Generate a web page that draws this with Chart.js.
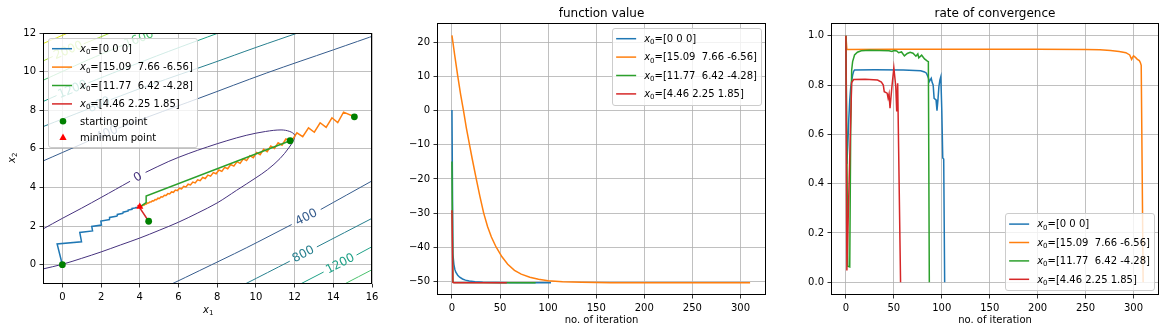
<!DOCTYPE html>
<html>
<head>
<meta charset="utf-8">
<script src="https://cdn.jsdelivr.net/npm/chart.js@4"></script>
<style>
  body { margin: 0; background: #fff; width: 1165px; height: 333px; overflow: hidden; position: relative; }
  canvas { position: absolute; top: 0; }
</style>
</head>
<body>
<canvas id="graficoContorno" width="385" height="333" style="left:0px"></canvas>
<canvas id="graficoValor" width="385" height="333" style="left:390px"></canvas>
<canvas id="graficoTaxa" width="385" height="333" style="left:780px"></canvas>
<script>
// ---------- data ----------
const startLabels = ["[0 0 0]", "[15.09  7.66 -6.56]", "[11.77  6.42 -4.28]", "[4.46 2.25 1.85]"];
const seriesColors = ["#1f77b4", "#ff7f0e", "#2ca02c", "#d62728"];

// paths in the (x1, x2) plane
const blueX = [0, -0.27, 0.99, 0.90, 1.56, 1.52, 2.02, 1.99, 2.46, 2.44, 2.85, 2.84, 3.15, 3.14, 3.40, 3.40, 3.60, 3.60, 3.78, 3.78, 3.92, 4.0];
const blueY = [0, 1.07, 1.19, 1.67, 1.75, 1.98, 2.05, 2.26, 2.34, 2.45, 2.52, 2.60, 2.66, 2.72, 2.78, 2.83, 2.87, 2.91, 2.94, 2.96, 2.98, 3.0];
const orangeX = [15.09, 14.53, 14.23, 13.93, 13.63, 13.32, 13.02, 12.72, 12.42, 12.12, 11.84, 11.55, 11.35, 11.15, 10.96, 10.77, 10.585, 10.40, 10.22, 10.04, 9.865, 9.69, 9.52, 9.35, 9.185, 9.02, 8.86, 8.70, 8.545, 8.39, 8.24, 8.09, 7.945, 7.80, 7.66, 7.52, 7.385, 7.25, 7.12, 6.99, 6.865, 6.74, 6.62, 6.50, 6.385, 6.27, 6.16, 6.05, 5.945, 5.84, 5.74, 5.64, 5.545, 5.45, 5.36, 5.27, 5.185, 5.10, 5.02, 4.94, 4.865, 4.79, 4.72, 4.65, 4.585, 4.52, 4.46, 4.40, 4.345, 4.29, 4.24, 4.19, 4.145, 4.10, 4.05, 4.0];
const orangeY = [7.66, 7.90, 7.36, 7.61, 7.11, 7.35, 6.86, 7.09, 6.63, 6.83, 6.40, 6.51, 6.19, 6.32, 6.02, 6.145, 5.857, 5.974, 5.698, 5.807, 5.543, 5.645, 5.393, 5.487, 5.248, 5.334, 5.106, 5.186, 4.969, 5.043, 4.836, 4.904, 4.707, 4.770, 4.583, 4.640, 4.464, 4.515, 4.349, 4.395, 4.238, 4.278, 4.131, 4.168, 4.029, 4.061, 3.931, 3.959, 3.837, 3.862, 3.748, 3.769, 3.664, 3.681, 3.583, 3.598, 3.506, 3.520, 3.434, 3.446, 3.366, 3.377, 3.303, 3.312, 3.245, 3.251, 3.191, 3.196, 3.141, 3.144, 3.096, 3.097, 3.055, 3.055, 3.02, 3.0];
const greenX = [11.77, 4.33, 4.33, 4.0];
const greenY = [6.42, 3.56, 3.22, 3.0];
const redX = [4.46, 3.95, 4.0];
const redY = [2.25, 3.02, 3.0];
const startX = [0, 15.09, 11.77, 4.46];
const startY = [0, 7.66, 6.42, 2.25];
const minX = [4.0];
const minY = [3.0];

// contour lines (null = gap for the inline label)
const contourLevels = [0, 400, 800, 1200, 1600, 2000, 2400];
const contourColors = ["#46327e", "#365c8d", "#277f8e", "#1fa187", "#4ac16d", "#a0da39", "#d8e219"];
const c0X = [-1.4, -1, 0, 1, 2, 3.5, null, 4.3, 5.5, 6.5, 7.5, 8.5, 9.5, 10.5, 11.3, 11.75, 12.0, 11.95, 11.7, 11.25, 10.6, 10, 9, 8, 7, 6, 5, 4, 3, 2, 1, 0, -1, -1.4];
const c0Y = [1.62, 1.85, 2.4, 2.93, 3.48, 4.32, null, 4.78, 5.35, 5.75, 6.1, 6.42, 6.7, 6.9, 6.98, 6.9, 6.72, 6.45, 6.05, 5.5, 4.92, 4.5, 3.85, 3.2, 2.68, 2.2, 1.78, 1.38, 1.02, 0.66, 0.33, 0.02, -0.22, -0.32];
const c400aX = [-1.5, -1, 1.0, 1.7, null, 2.9, 4.52, 7.11, 10.56, 14.01, 16.5];
const c400aY = [5.15, 5.37, 6.25, 6.56, null, 7.07, 7.69, 8.64, 9.93, 11.13, 12.0];
const c400bX = [5.0, 5.65, 7.1, 9.5, 11.85, null, 13.35, 16, 16.5];
const c400bY = [-1.3, -1, -0.3, 0.87, 2.08, null, 2.86, 4.34, 4.62];
const c800aX = [-1.5, -1, 0.2, 1.3, null, 2.5, 4.5, 7.78, 10, 12.3];
const c800aY = [6.93, 7.15, 7.62, 8.05, null, 8.55, 9.3, 10.45, 11.25, 12.05];
const c800bX = [8.8, 9.44, 11.75, null, 13.15, 16, 16.5];
const c800bY = [-1.3, -1, 0.18, null, 0.92, 2.4, 2.66];
const c1200aX = [-1.5, -1, -0.3, null, 1.35, 3, 5.5, 8.2];
const c1200aY = [8.22, 8.45, 8.76, null, 9.42, 10.08, 11.05, 12.05];
const c1200bX = [11.7, 12.3, 13.5, null, 15.2, 16.5];
const c1200bY = [-1.3, -1, -0.38, null, 0.5, 1.2];
const c1600aX = [-1.5, -1, 1.2, 3.15, null, 4.75, 5.5];
const c1600aY = [9.33, 9.55, 10.55, 11.38, null, 12.02, 12.3];
const c1600bX = [14.1, 16.5];
const c1600bY = [-1.25, 0.0];
const c2000aX = [-1.5, -1, -0.5, null, 1.1, 2.6];
const c2000aY = [10.33, 10.55, 10.78, null, 11.44, 12.05];
const c2400aX = [-1.5, -1, 0.4];
const c2400aY = [11.23, 11.45, 12.05];

// function value per iteration
const fvItersBlue = [0, 1, 2, 3, 4, 6, 8, 11, 14, 18, 24, 32, 45, 60, 103];
const fvBlue = [0.2, -42, -45, -46.5, -47.3, -48.2, -48.8, -49.3, -49.65, -49.9, -50.1, -50.25, -50.35, -50.4, -50.4];
const fvItersOrange = [0, 3, 6, 9, 12, 15, 18, 21, 25, 29, 33, 37, 41, 46, 52, 58, 65, 72, 81, 90, 100, 115, 135, 165, 310];
const fvOrange = [22.1, 16, 10.2, 4.8, 0, -5.1, -9.6, -14, -19.6, -25, -30, -33.9, -37, -40, -42.8, -45, -46.8, -47.9, -48.8, -49.4, -49.8, -50.15, -50.3, -50.38, -50.4];
const fvItersGreen = [0, 1, 2, 87];
const fvGreen = [-14.9, -50.2, -50.35, -50.4];
const fvItersRed = [0, 1, 2, 57];
const fvRed = [-29.2, -50.3, -50.38, -50.4];

// rate of convergence per iteration
const rateItersBlue = [0, 1, 2, 3, 4, 5, 6, 7, 8, 9, 30, 60, 78, 82, 84, 86, 87, 89, 90, 91, 92, 94, 95, 96, 97, 98, 99, 100, 101, 102, 103];
const rateBlue = [1.0, 0.48, 0.56, 0.66, 0.74, 0.79, 0.815, 0.84, 0.855, 0.861, 0.862, 0.861, 0.858, 0.853, 0.848, 0.83, 0.814, 0.827, 0.81, 0.8, 0.746, 0.74, 0.696, 0.74, 0.794, 0.82, 0.834, 0.7, 0.504, 0.5, 0];
const rateItersOrange = [0, 1, 50, 100, 150, 200, 250, 265, 276, 285, 292, 296, 298, 299, 300, 302, 304, 306, 307, 308, 309, 310];
const rateOrange = [1.0, 0.944, 0.945, 0.945, 0.945, 0.945, 0.944, 0.943, 0.94, 0.936, 0.931, 0.922, 0.904, 0.912, 0.918, 0.912, 0.904, 0.899, 0.892, 0.88, 0.45, 0];
const rateItersGreen = [0, 2, 4, 5, 6, 7, 9, 12, 16, 25, 35, 45, 48, 50, 53, 55, 58, 61, 64, 67, 70, 73, 75, 76, 79, 82, 85, 86, 87];
const rateGreen = [1.0, 0.065, 0.062, 0.62, 0.86, 0.895, 0.922, 0.933, 0.939, 0.941, 0.94, 0.939, 0.936, 0.94, 0.938, 0.931, 0.934, 0.918, 0.928, 0.933, 0.929, 0.917, 0.926, 0.91, 0.921, 0.906, 0.897, 0.895, 0];
const rateItersRed = [0, 1, 6, 8, 20, 33, 37, 39, 40, 43, 44, 45, 46, 48, 50, 52, 53, 54, 57];
const rateRed = [1.0, 0.048, 0.81, 0.822, 0.823, 0.82, 0.812, 0.8, 0.773, 0.767, 0.747, 0.764, 0.706, 0.794, 0.87, 0.794, 0.693, 0.807, 0];

// tick labels
const x1Ticks = [0, 2, 4, 6, 8, 10, 12, 14, 16];
const x2Ticks = [0, 2, 4, 6, 8, 10, 12];
const iterTicks = [0, 50, 100, 150, 200, 250, 300];
const fvTicks = [-50, -40, -30, -20, -10, 0, 10, 20];
const rateTicks = [0, 0.2, 0.4, 0.6, 0.8, 1.0];

// ---------- helpers ----------
Chart.defaults.font.family = "'DejaVu Sans', sans-serif";
Chart.defaults.font.size = 10;
Chart.defaults.color = "#000";

const FONTE = "'DejaVu Sans'";
const pts = (xs, ys) => xs.map((x, i) => ({ x: x, y: ys[i] }));
const fixTicks = (valores) => (s) => { s.ticks = valores.map((v) => ({ value: v })); };
const minus = (v) => String(v).replace("-", "\u2212");

function eixo(extra) {
  return Object.assign({
    type: "linear",
    grid: { color: "#b0b0b0", lineWidth: 0.8, drawTicks: true, tickLength: 3.5, tickColor: "#000", tickWidth: 0.8 },
    border: { display: false },
    ticks: { padding: 3.5, autoSkip: false, maxRotation: 0, color: "#000", font: { size: 10 } },
  }, extra);
}

// italic x with subscript, then plain text
function textoMat(ctx, x, y, sub, resto, desenhar) {
  ctx.font = "italic 10px " + FONTE;
  if (desenhar) ctx.fillText("x", x, y);
  let w = ctx.measureText("x").width;
  ctx.font = "7px " + FONTE;
  if (desenhar) ctx.fillText(sub, x + w, y + 2.2);
  w += ctx.measureText(sub).width;
  if (resto) {
    ctx.font = "10px " + FONTE;
    if (desenhar) ctx.fillText(resto, x + w, y);
    w += ctx.measureText(resto).width;
  }
  return w;
}

function medirItem(ctx, it) {
  if (it.math) return textoMat(ctx, 0, 0, "0", "=" + it.text, false);
  ctx.font = "10px " + FONTE;
  return ctx.measureText(it.text).width;
}

function desenharLegenda(chart, itens, canto) {
  const { ctx, chartArea: a } = chart;
  ctx.save();
  ctx.textAlign = "left";
  ctx.textBaseline = "alphabetic";
  let larg = 0;
  itens.forEach((it) => { larg = Math.max(larg, medirItem(ctx, it)); });
  const alturas = itens.map((it) => (it.math ? 13.4 : 11.2));
  const w = 4 + 20 + 8 + larg + 4;
  const h = 8 + alturas.reduce((s, v) => s + v, 0) + 5 * (itens.length - 1);
  const left = canto.includes("left") ? a.left + 5 : a.right - 5 - w;
  const top = canto.includes("upper") ? a.top + 5 : a.bottom - 5 - h;
  ctx.beginPath();
  ctx.roundRect(Math.round(left) + 0.5, Math.round(top) + 0.5, Math.round(w), Math.round(h), 2.5);
  ctx.fillStyle = "rgba(255,255,255,0.8)";
  ctx.fill();
  ctx.strokeStyle = "#cccccc";
  ctx.lineWidth = 1;
  ctx.stroke();
  let y = top + 4;
  itens.forEach((it, i) => {
    const yc = y + alturas[i] / 2;
    ctx.fillStyle = it.color;
    ctx.strokeStyle = it.color;
    if (it.kind === "line") {
      ctx.lineWidth = 1.5;
      ctx.beginPath();
      ctx.moveTo(left + 4, yc);
      ctx.lineTo(left + 24, yc);
      ctx.stroke();
    } else if (it.kind === "circle") {
      ctx.beginPath();
      ctx.arc(left + 15, yc, 3.3, 0, Math.PI * 2);
      ctx.fill();
    } else {
      ctx.beginPath();
      ctx.moveTo(left + 15, yc - 4);
      ctx.lineTo(left + 18.6, yc + 2.6);
      ctx.lineTo(left + 11.4, yc + 2.6);
      ctx.closePath();
      ctx.fill();
    }
    ctx.fillStyle = "#000";
    if (it.math) textoMat(ctx, left + 32, yc + 3.2, "0", "=" + it.text, true);
    else { ctx.font = "10px " + FONTE; ctx.fillText(it.text, left + 32, yc + 3.5); }
    y += alturas[i] + 5;
  });
  ctx.restore();
}

function quadro(chart) {
  const { ctx, chartArea: a } = chart;
  ctx.save();
  ctx.strokeStyle = "#000";
  ctx.lineWidth = 1;
  ctx.strokeRect(Math.round(a.left) + 0.5, Math.round(a.top) + 0.5, Math.round(a.width) - 1, Math.round(a.height) - 1);
  ctx.restore();
}

const itensSeries = startLabels.map((t, i) => ({ kind: "line", color: seriesColors[i], text: t, math: true }));

function linhaSerie(xs, ys, i, ordem) {
  return {
    label: "x\u2080=" + startLabels[i],
    data: pts(xs, ys),
    showLine: true,
    borderColor: seriesColors[i],
    backgroundColor: seriesColors[i],
    borderWidth: 1.5,
    pointRadius: 0,
    order: ordem,
  };
}

// ---------- left: contour plot with paths ----------
const contornos = [
  [0, c0X, c0Y], [400, c400aX, c400aY], [400, c400bX, c400bY], [800, c800aX, c800aY], [800, c800bX, c800bY],
  [1200, c1200aX, c1200aY], [1200, c1200bX, c1200bY], [1600, c1600aX, c1600aY], [1600, c1600bX, c1600bY],
  [2000, c2000aX, c2000aY], [2400, c2400aX, c2400aY],
];
const dsContorno = contornos.map(([nivel, xs, ys]) => ({
  label: "contour " + nivel,
  nivel: nivel,
  data: pts(xs, ys),
  showLine: true,
  borderColor: contourColors[contourLevels.indexOf(nivel)],
  borderWidth: 1,
  pointRadius: 0,
  tension: 0.35,
  spanGaps: false,
  order: 20,
}));

const rotulosPlugin = {
  id: "rotulos",
  beforeDatasetsDraw(chart) {
    const { ctx, chartArea: a, scales } = chart;
    ctx.save();
    ctx.beginPath();
    ctx.rect(a.left, a.top, a.width, a.height);
    ctx.clip();
    ctx.font = "12px " + FONTE;
    ctx.textAlign = "center";
    ctx.textBaseline = "middle";
    chart.data.datasets.forEach((ds) => {
      if (ds.nivel === undefined) return;
      const k = ds.data.findIndex((p) => p.x === null);
      if (k < 1) return;
      const p1 = ds.data[k - 1], p2 = ds.data[k + 1];
      const x1 = scales.x.getPixelForValue(p1.x), y1 = scales.y.getPixelForValue(p1.y);
      const x2 = scales.x.getPixelForValue(p2.x), y2 = scales.y.getPixelForValue(p2.y);
      ctx.save();
      ctx.translate((x1 + x2) / 2, (y1 + y2) / 2);
      ctx.rotate(Math.atan2(y2 - y1, x2 - x1));
      ctx.fillStyle = ds.borderColor;
      ctx.fillText(String(ds.nivel), 0, 0.5);
      ctx.restore();
    });
    ctx.restore();
  },
  afterDatasetsDraw(chart) {
    quadro(chart);
    desenharLegenda(chart, itensSeries.concat([
      { kind: "circle", color: "#008000", text: "starting point" },
      { kind: "triangle", color: "#ff0000", text: "minimum point" },
    ]), "upper left");
  },
  afterDraw(chart) {
    const { ctx, chartArea: a } = chart;
    ctx.save();
    ctx.fillStyle = "#000";
    ctx.textBaseline = "alphabetic";
    textoMat(ctx, (a.left + a.right) / 2 - 4.5, 313, "1", "", true);
    ctx.translate(15, (a.top + a.bottom) / 2 + 4.5);
    ctx.rotate(-Math.PI / 2);
    textoMat(ctx, 0, 0, "2", "", true);
    ctx.restore();
  },
};

new Chart(document.getElementById("graficoContorno").getContext("2d"), {
  type: "scatter",
  data: {
    datasets: dsContorno.concat([
      linhaSerie(blueX, blueY, 0, 9),
      linhaSerie(orangeX, orangeY, 1, 8),
      linhaSerie(greenX, greenY, 2, 7),
      linhaSerie(redX, redY, 3, 6),
      {
        label: "starting point",
        data: pts(startX, startY),
        pointRadius: 3.4,
        pointBackgroundColor: "#008000",
        pointBorderWidth: 0,
        order: 2,
      },
      {
        label: "minimum point",
        data: pts(minX, minY),
        pointStyle: "triangle",
        pointRadius: 4.2,
        pointBackgroundColor: "#ff0000",
        pointBorderColor: "#ff0000",
        pointBorderWidth: 0,
        order: 1,
      },
    ]),
  },
  options: {
    responsive: false,
    animation: false,
    devicePixelRatio: 1,
    layout: { padding: { top: 33, right: 13, left: 0, bottom: 0 }, autoPadding: false },
    plugins: { legend: { display: false }, tooltip: { enabled: false } },
    scales: {
      x: eixo({ min: -1, max: 16, afterBuildTicks: fixTicks(x1Ticks), afterFit: (s) => { s.height = 49; } }),
      y: eixo({ min: -1, max: 12, afterBuildTicks: fixTicks(x2Ticks), afterFit: (s) => { s.width = 43; } }),
    },
  },
  plugins: [rotulosPlugin],
});

// ---------- middle and right ----------
function graficoIteracao(id, titulo, series, yCfg, larguraY, padDir, canto) {
  new Chart(document.getElementById(id).getContext("2d"), {
    type: "scatter",
    data: {
      datasets: series.map(([xs, ys], i) => linhaSerie(xs, ys, i, 4 - i)),
    },
    options: {
      responsive: false,
      animation: false,
      devicePixelRatio: 1,
      layout: { padding: { top: 0, right: padDir, left: 0, bottom: 0 }, autoPadding: false },
      plugins: {
        legend: { display: false },
        tooltip: { enabled: false },
        title: {
          display: true,
          text: titulo,
          fullSize: false,
          color: "#000",
          font: { size: 12, weight: "normal" },
          padding: { top: 7, bottom: 1.6 },
        },
      },
      scales: {
        x: eixo({
          min: -15.55,
          max: 326.55,
          afterBuildTicks: fixTicks(iterTicks),
          afterFit: (s) => { s.height = 38; },
          title: { display: true, text: "no. of iteration", color: "#000", font: { size: 10 }, padding: { top: 0, bottom: 7 } },
        }),
        y: eixo(Object.assign({ afterFit: (s) => { s.width = larguraY; } }, yCfg)),
      },
    },
    plugins: [{
      id: "molduraLegenda",
      afterDatasetsDraw(chart) {
        quadro(chart);
        desenharLegenda(chart, itensSeries, canto);
      },
    }],
  });
}

graficoIteracao("graficoValor", "function value", [
  [fvItersBlue, fvBlue], [fvItersOrange, fvOrange], [fvItersGreen, fvGreen], [fvItersRed, fvRed],
], {
  min: -54.0,
  max: 25.7,
  afterBuildTicks: fixTicks(fvTicks),
  ticks: { padding: 3.5, autoSkip: false, color: "#000", font: { size: 10 }, callback: (v) => minus(v) },
}, 47, 9, "upper right");

graficoIteracao("graficoTaxa", "rate of convergence", [
  [rateItersBlue, rateBlue], [rateItersOrange, rateOrange], [rateItersGreen, rateGreen], [rateItersRed, rateRed],
], {
  min: -0.0515,
  max: 1.0515,
  afterBuildTicks: fixTicks(rateTicks),
  ticks: { padding: 3.5, autoSkip: false, color: "#000", font: { size: 10 }, callback: (v) => v.toFixed(1) },
}, 51, 6, "lower right");
</script>
</body>
</html>
